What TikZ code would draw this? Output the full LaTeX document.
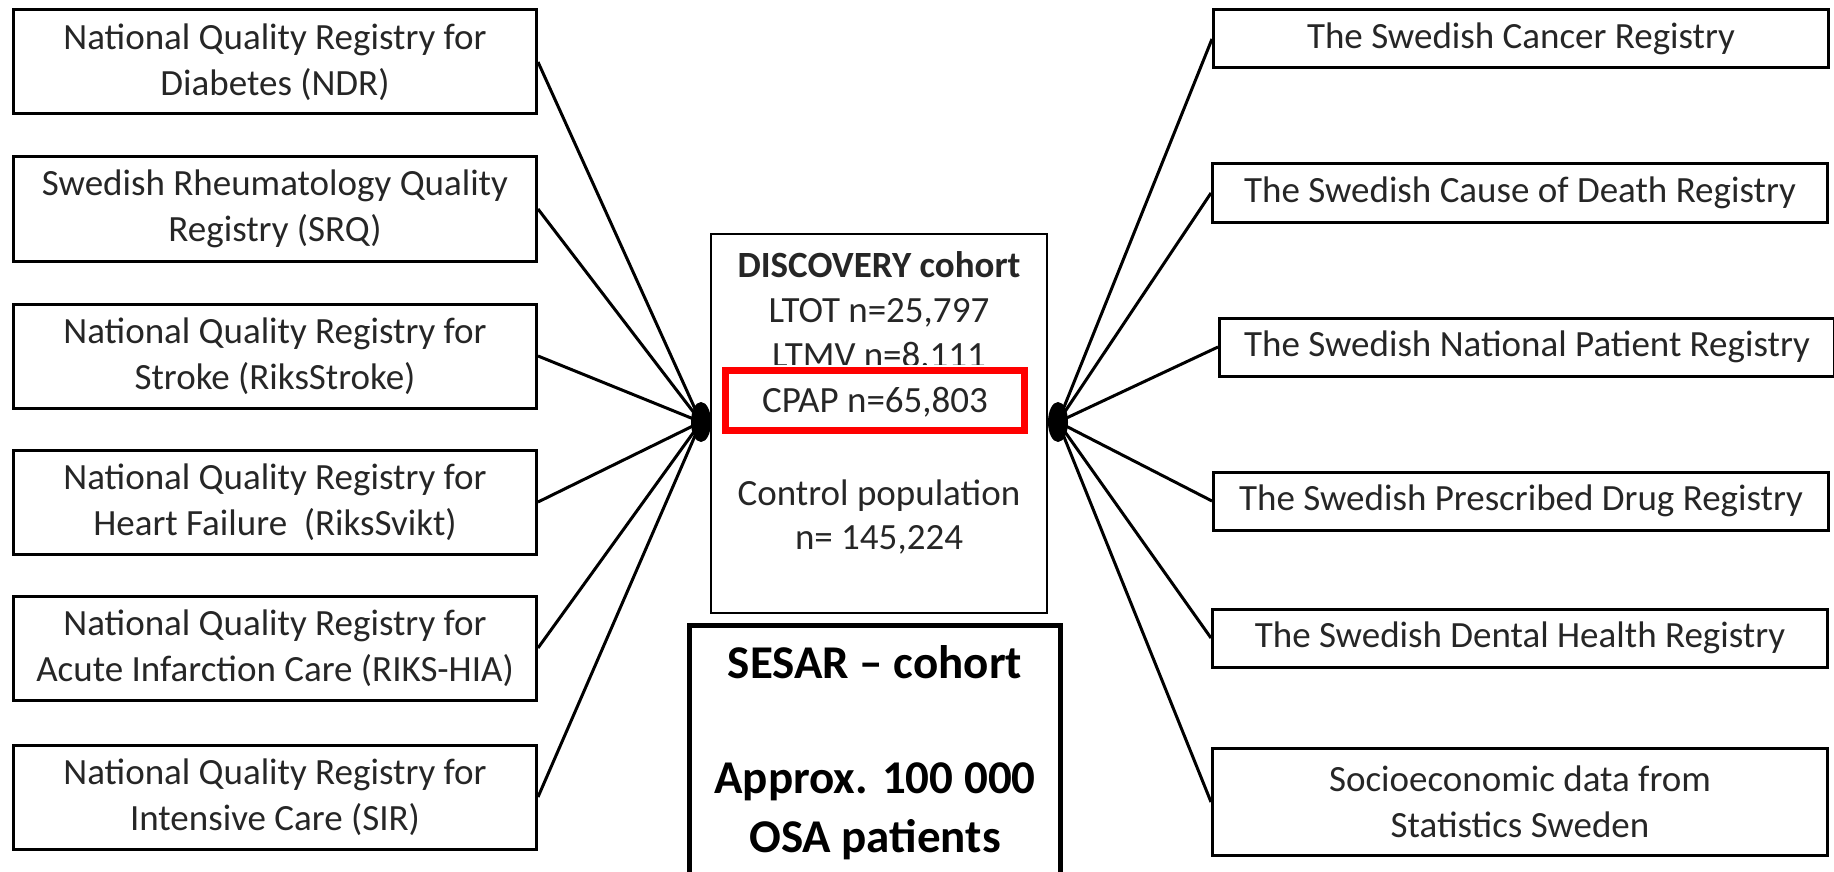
\documentclass[tikz,border=0pt]{standalone}
\usepackage{fontspec}
\setmainfont{Carlito}
\usetikzlibrary{shapes.geometric}
\begin{document}
\begin{tikzpicture}[x=1pt,y=-1pt,
  regbox/.style={draw, line width=3pt, inner sep=0pt, align=center,
    font=\fontsize{37}{46}\selectfont, text=black!85},
  lbox/.style={regbox, minimum width=523pt, minimum height=104pt},
  rbox/.style={regbox, minimum width=615pt, minimum height=58pt},
  ctext/.style={anchor=base, inner sep=0pt, font=\fontsize{37}{45}\selectfont, text=black!85},
  stext/.style={anchor=base, inner sep=0pt, font=\fontsize{47}{56}\selectfont\bfseries},
  link/.style={line width=3pt},
  hub/.style={ellipse, fill=black, inner sep=0pt, minimum width=20pt, minimum height=40pt}]
\useasboundingbox (0,0) rectangle (1834,872);
% left boxes
\node[lbox] (l1) at (275,62) {National Quality Registry for\\Diabetes (NDR)};
\node[lbox] (l2) at (275,209) {Swedish Rheumatology Quality\\Registry (SRQ)};
\node[lbox] (l3) at (275,356) {National Quality Registry for\\Stroke (RiksStroke)};
\node[lbox] (l4) at (275,502) {National Quality Registry for\\Heart Failure\ \ (RiksSvikt)};
\node[lbox] (l5) at (275,648) {National Quality Registry for\\Acute Infarction Care (RIKS-HIA)};
\node[lbox] (l6) at (275,797) {National Quality Registry for\\Intensive Care (SIR)};
% right boxes
\node[rbox] (r1) at (1521,39) {The Swedish Cancer Registry};
\node[rbox] (r2) at (1520,193) {The Swedish Cause of Death Registry};
\node[rbox] (r3) at (1527,347) {The Swedish National Patient Registry};
\node[rbox] (r4) at (1521,501) {The Swedish Prescribed Drug Registry};
\node[rbox] (r5) at (1520,638) {The Swedish Dental Health Registry};
\node[rbox, minimum height=107pt] (r6) at (1520,802) {Socioeconomic data from\\Statistics Sweden};
% centre box
\node[draw, line width=2.6pt, minimum width=336pt, minimum height=379pt, inner sep=0pt] (disc) at (879,423.5) {};
\node[draw=red, fill=white, line width=7pt, minimum width=299pt, minimum height=60pt, inner sep=0pt] (cpapbox) at (875,400.5) {};
\node[ctext, font=\fontsize{37}{45}\selectfont\bfseries] (t1) at (879,277) {DISCOVERY cohort};
\node[ctext] (t2) at (879,322) {LTOT n=25,797};
\begin{scope}
\clip (700,300) rectangle (1060,364);
\node[ctext] (t3) at (879,367) {LTMV n=8,111};
\end{scope}
\node[ctext] (cpap) at (875,412) {CPAP n=65,803};
\node[ctext] (t5) at (879,505) {Control population};
\node[ctext] (t6) at (879,549) {n= 145,224};
% SESAR box
\node[draw, line width=5pt, minimum width=371pt, minimum height=300pt, inner sep=0pt] (sesar) at (875,775.5) {};
\node[stext] (s1) at (875,678) {SESAR -- cohort};
\node[stext] (s2) at (875,793) {Approx. 100 000};
\node[stext] (s3) at (875,852) {OSA patients};
% hubs
\node[hub] (hl) at (701,422) {};
\node[hub] (hr) at (1058,422) {};
\foreach \n in {l1,l2,l3,l4,l5,l6} \draw[link] (\n.east) -- (hl.center);
\foreach \n in {r1,r2,r3,r4,r5,r6} \draw[link] (\n.west) -- (hr.center);
\end{tikzpicture}
\end{document}
